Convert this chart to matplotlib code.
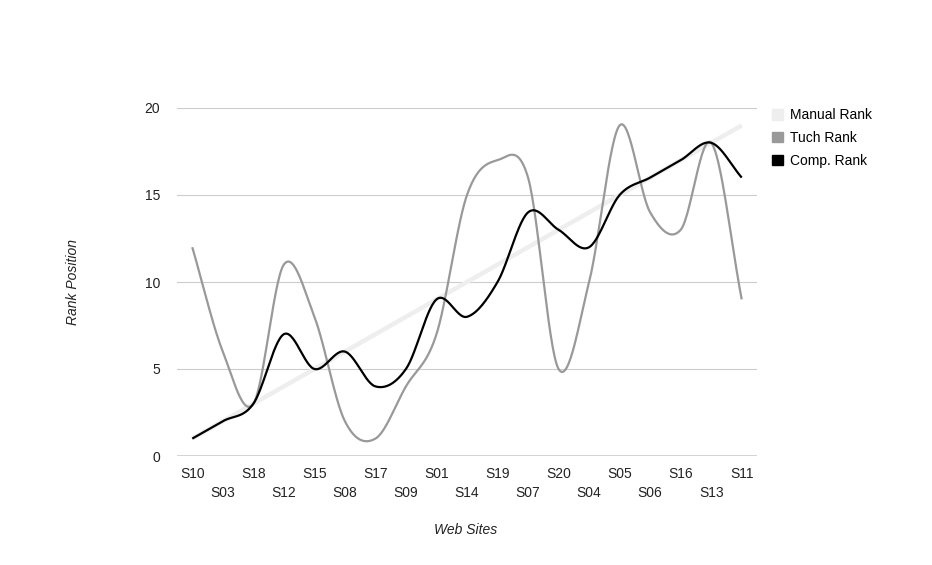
import numpy as np
import matplotlib
matplotlib.use("Agg")
import matplotlib.pyplot as plt
from matplotlib.patches import Patch

plt.rcParams["font.family"] = ["Liberation Sans", "DejaVu Sans"]

# Data
SITES = ["S10", "S03", "S18", "S12", "S15", "S08", "S17", "S09", "S01", "S14",
         "S19", "S07", "S20", "S04", "S05", "S06", "S16", "S13", "S11"]
MANUAL_RANK = [1, 2, 3, 4, 5, 6, 7, 8, 9, 10, 11, 12, 13, 14, 15, 16, 17, 18, 19]
TUCH_RANK = [12, 6, 3, 11, 8, 2, 1, 4, 7, 15, 17, 16, 5, 10, 19, 14, 13, 18, 9]
COMP_RANK = [1, 2, 3, 7, 5, 6, 4, 5, 9, 8, 10, 14, 13, 12, 15, 16, 17, 18, 16]
Y_TICKS = [0, 5, 10, 15, 20]


def smooth(y, steps=30):
	# Catmull-Rom style curve through the points (like curveType 'function')
	y = np.asarray(y, dtype=float)
	n = len(y)
	m = np.zeros(n)
	m[1:-1] = (y[2:] - y[:-2]) / 2
	m[0] = y[1] - y[0]
	m[-1] = y[-1] - y[-2]
	xs, ys = [], []
	for i in range(n - 1):
		t = np.linspace(0, 1, steps, endpoint=(i == n - 2))
		h00 = 2 * t**3 - 3 * t**2 + 1
		h10 = t**3 - 2 * t**2 + t
		h01 = -2 * t**3 + 3 * t**2
		h11 = t**3 - t**2
		xs.append(i + t)
		ys.append(h00 * y[i] + h10 * m[i] + h01 * y[i + 1] + h11 * m[i + 1])
	return np.concatenate(xs), np.concatenate(ys)


fig = plt.figure(figsize=(9.32, 5.65), dpi=100)
ax = fig.add_axes([177 / 932, 109 / 565, 580 / 932, 348 / 565])

series = [
	("Manual Rank", MANUAL_RANK, "#eeeeee", 3.2),
	("Tuch Rank", TUCH_RANK, "#999999", 1.6),
	("Comp. Rank", COMP_RANK, "#000000", 1.6),
]
for label, vals, color, lw in series:
	sx, sy = smooth(vals)
	ax.plot(sx, sy, color=color, linewidth=lw, solid_capstyle="butt", zorder=3)

ax.set_xlim(-0.5, 18.5)
ax.set_ylim(0, 20)
ax.set_yticks(Y_TICKS)
ax.set_yticklabels([str(v) for v in Y_TICKS], fontsize=10, color="#222222")
ax.grid(axis="y", color="#cccccc", linewidth=0.8, zorder=0)
ax.axhline(0, color="#333333", linewidth=1.0, zorder=4)
ax.set_xticks(range(len(SITES)))
ax.set_xticklabels([s if i % 2 == 0 else "\n" + s for i, s in enumerate(SITES)],
				   fontsize=10, color="#222222", linespacing=1.45)
ax.tick_params(axis="both", length=0)
ax.tick_params(axis="x", pad=8)
ax.tick_params(axis="y", pad=12)
for side in ax.spines.values():
	side.set_visible(False)

fig.text(73 / 932, 1 - 282 / 565, "Rank Position", rotation=90, style="italic",
		 fontsize=10, color="#222222", ha="center", va="center")
fig.text(466 / 932, 1 - 530 / 565, "Web Sites", style="italic",
		 fontsize=10, color="#222222", ha="center", va="center")

handles = [Patch(facecolor=c, edgecolor=c) for _, _, c, _ in series]
ax.legend(handles, [s[0] for s in series], loc="upper left",
		  bbox_to_anchor=(768 / 932, 1 - 104 / 565), bbox_transform=fig.transFigure,
		  frameon=False, fontsize=10, handlelength=0.8, handleheight=0.8,
		  handletextpad=0.45, labelspacing=0.63, borderaxespad=0, borderpad=0.3)

fig.savefig("out.png", dpi=100)
